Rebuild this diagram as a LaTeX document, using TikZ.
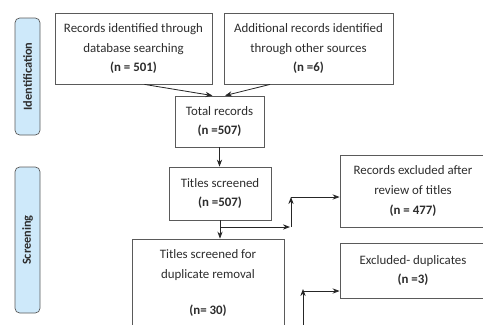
\documentclass[tikz,border=0pt]{standalone}
\usepackage{fontspec}
\setmainfont{Carlito}
\usetikzlibrary{calc,arrows.meta}
\definecolor{phasefill}{RGB}{206,233,250}
\definecolor{boxline}{RGB}{90,90,90}
\definecolor{txt}{RGB}{45,45,45}
\begin{document}
\begin{tikzpicture}[
    x=0.3mm, y=-0.3mm,
    font=\fontsize{11}{17}\selectfont, text=txt,
    box/.style={draw=boxline, line width=0.7pt, align=center, inner sep=0pt},
    phase/.style={draw=boxline, fill=phasefill, line width=0.6pt, rounded corners=4pt,
        rotate=90, font=\fontsize{10.5}{12}\selectfont\bfseries, inner sep=0pt},
    arrow/.style={-{Stealth[length=6pt,width=4.5pt]}, line width=0.7pt, black!85}
]
\useasboundingbox (0,0) rectangle (483,324);
\clip (0,0) rectangle (483,324);

% Phases
\node[phase, minimum width=117*0.3mm, minimum height=25*0.3mm] (ident) at (27.5,76.5) {Identification};
\node[phase, minimum width=146*0.3mm, minimum height=25*0.3mm] (screen) at (27.5,240) {Screening};

% Identification
\node[box, minimum width=157*0.3mm, minimum height=71*0.3mm] (db) at (133.5,48.5)
    {Records identified through\\database searching\\\textbf{(n = 501)}};
\node[box, minimum width=169*0.3mm, minimum height=71*0.3mm] (other) at (308.5,48.5)
    {Additional records identified\\through other sources\\\textbf{(n =6)}};
\node[box, minimum width=89*0.3mm, minimum height=51*0.3mm] (total) at (219.5,121.5)
    {Total records\\\textbf{(n =507)}};
\draw[arrow] ($(db.south)+(11,0)$) -- ($(total.north)+(-7,0)$);
\draw[arrow] ($(other.south)+(-38.5,0)$) -- ($(total.north)+(5.5,0)$);

% Screening
\node[box, minimum width=102*0.3mm, minimum height=53*0.3mm] (titles) at (220,193.5)
    {Titles screened\\\textbf{(n =507)}};
\node[box, minimum width=146*0.3mm, minimum height=72*0.3mm] (excl1) at (413,191)
    {Records excluded after\\review of titles\\\textbf{(n = 477)}};
\node[box, minimum width=152*0.3mm, minimum height=88*0.3mm] (dup) at (208,283)
    {Titles screened for\\duplicate removal\\[14pt]\textbf{(n= 30)}};
\node[box, minimum width=146*0.3mm, minimum height=55*0.3mm] (excl2) at (413,270.5)
    {Excluded- duplicates\\\textbf{(n =3)}};

\draw[arrow] (total.south) -- (total.south |- titles.north);
\draw[arrow] (titles.south) -- (titles.south |- dup.north);

% Branches to exclusions
\coordinate (j1) at (220,227);
\coordinate (k1) at (291,227);
\coordinate (m1) at (291,197);
\draw[arrow] (j1) -- ($(k1)+(-1,0)$);
\draw[arrow] (k1) -- (m1);
\draw[arrow] (m1) -- (m1 -| excl1.west);

\coordinate (k2) at (303,330);
\coordinate (m2) at (303,289);
\draw[arrow] (k2) -- (m2);
\draw[arrow] (303,291) -- (excl2.west |- 0,291);
\end{tikzpicture}
\end{document}
